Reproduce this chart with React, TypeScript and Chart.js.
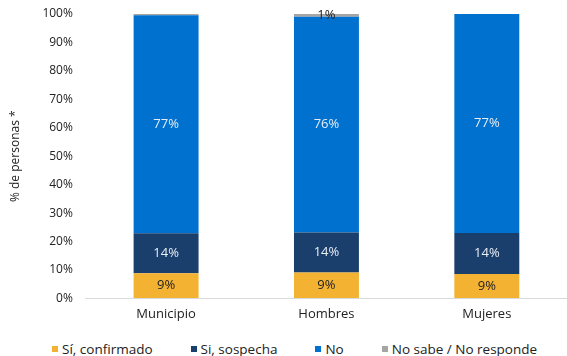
import React, { useEffect, useRef } from "react";
import { Chart, registerables } from "chart.js";

Chart.register(...registerables);

const categories = ["Municipio", "Hombres", "Mujeres"];
const seriesNames = ["Sí, confirmado", "Si, sospecha", "No", "No sabe / No responde"];
const siConfirmado = [8.8, 9.1, 8.6];
const siSospecha = [14.1, 14.1, 14.4];
const noValues = [76.7, 75.8, 77.0];
const noSabe = [0.4, 1.0, 0.0];
const yTicks = [0, 10, 20, 30, 40, 50, 60, 70, 80, 90, 100];

const colors = ["#F4B233", "#1B3F6C", "#0071CE", "#A5A5A5"];
const labelColors = ["#222222", "#E8EEF5", "#E8EEF5", "#222222"];
const FONT = "'Open Sans', sans-serif";

const labelPlugin = {
  id: "barLabels",
  afterDatasetsDraw(chart: any) {
    const ctx = chart.ctx;
    ctx.save();
    ctx.font = `13px ${FONT}`;
    ctx.textAlign = "center";
    ctx.textBaseline = "middle";
    chart.data.datasets.forEach((ds: any, i: number) => {
      const meta = chart.getDatasetMeta(i);
      meta.data.forEach((el: any, j: number) => {
        const v = Math.round(ds.data[j]);
        if (!v) return;
        const y = (el.y + el.base) / 2;
        ctx.fillStyle = labelColors[i];
        ctx.fillText(`${v}%`, el.x, y);
      });
    });
    ctx.restore();
  },
};

export default function App() {
  const ref = useRef<HTMLCanvasElement>(null);
  useEffect(() => {
    const data = [siConfirmado, siSospecha, noValues, noSabe];
    const chart = new Chart(ref.current!, {
      type: "bar",
      data: {
        labels: categories,
        datasets: seriesNames.map((name, i) => ({
          label: name,
          data: data[i],
          backgroundColor: colors[i],
          borderWidth: 0,
          barPercentage: 0.405,
          categoryPercentage: 1,
        })),
      },
      options: {
        animation: false,
        responsive: false,
        maintainAspectRatio: false,
        layout: { padding: { top: 14, left: 8, right: 0, bottom: 1 } },
        scales: {
          x: {
            stacked: true,
            grid: { display: false, drawTicks: false },
            border: { color: "#D9D9D9" },
            ticks: { color: "#222", font: { family: FONT, size: 13 }, padding: 8 },
          },
          y: {
            stacked: true,
            min: 0,
            max: 100,
            afterBuildTicks: (axis: any) => {
              axis.ticks = yTicks.map((v) => ({ value: v }));
            },
            grid: {
              display: true,
              drawOnChartArea: false,
              drawTicks: true,
              tickLength: 13,
              color: "rgba(0,0,0,0)",
            },
            border: { display: false },
            ticks: {
              color: "#222",
              font: { family: FONT, size: 12 },
              padding: 0,
              callback: (v: any) => `${v}%`,
            },
            title: {
              display: true,
              text: "% de personas *",
              color: "#222",
              font: { family: FONT, size: 12 },
              padding: { top: 0, bottom: 20 },
            },
          },
        },
        plugins: {
          legend: { display: false },
          tooltip: { enabled: false },
        },
      },
      plugins: [labelPlugin],
    });
    return () => chart.destroy();
  }, []);
  return (
    <div style={{ position: "fixed", left: 0, top: 0, width: 567, height: 356, overflow: "hidden", background: "#fff" }}>
      <canvas ref={ref} width={567} height={331} style={{ width: 567, height: 331, display: "block" }} />
      <div
        style={{
          position: "absolute",
          left: 52,
          top: 340,
          height: 18,
          display: "flex",
          alignItems: "center",
          gap: 38,
          fontFamily: FONT,
          fontSize: 13.5,
          color: "#222",
          lineHeight: "18px",
          whiteSpace: "nowrap",
        }}
      >
        {seriesNames.map((name, i) => (
          <div key={name} style={{ display: "flex", alignItems: "center" }}>
            <span style={{ display: "inline-block", width: 6, height: 6, background: colors[i], marginRight: 4 }} />
            <span>{name}</span>
          </div>
        ))}
      </div>
    </div>
  );
}
